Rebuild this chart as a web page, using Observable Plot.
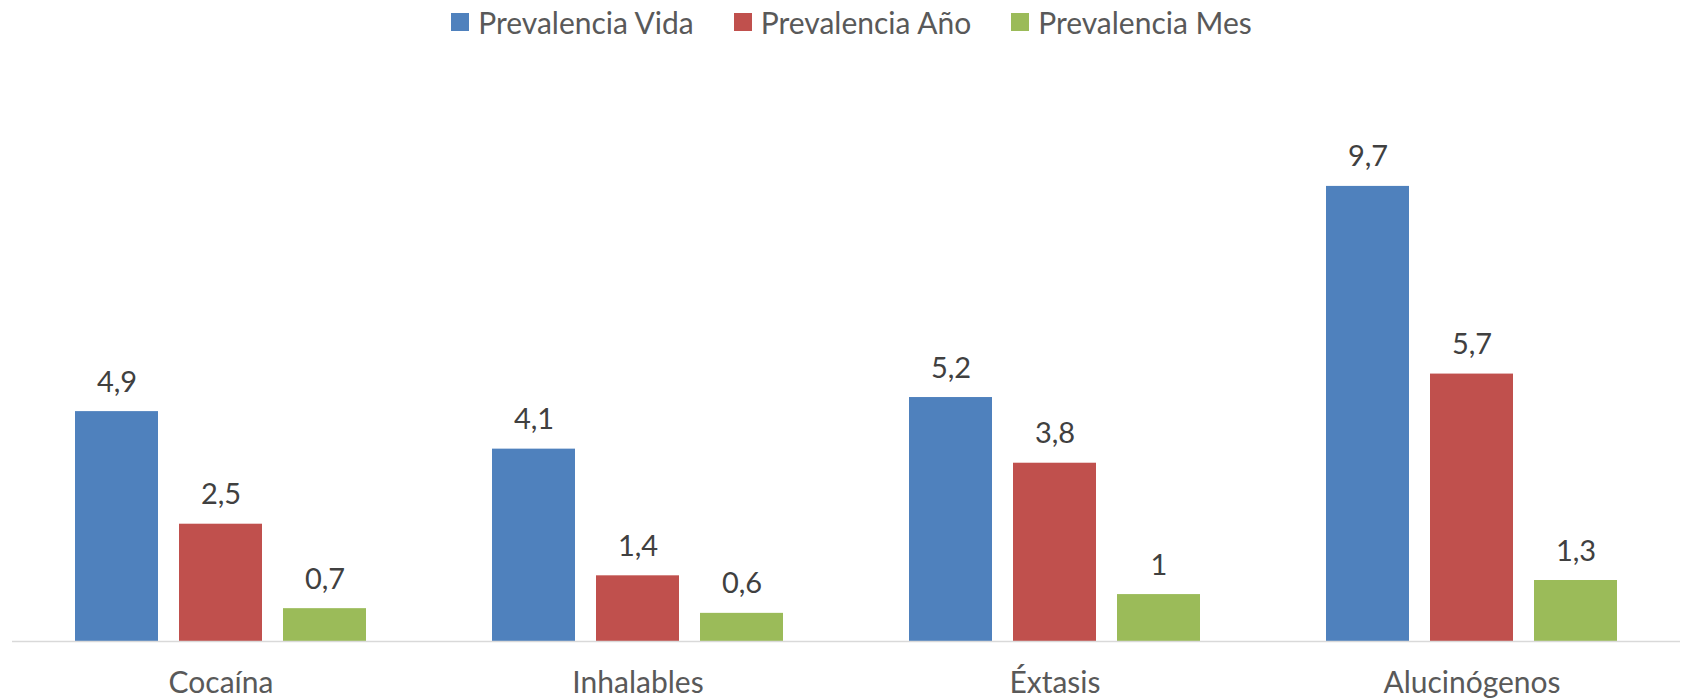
<!DOCTYPE html>
<html><head><meta charset="utf-8">
<script src="https://cdn.jsdelivr.net/npm/d3@7"></script>
<script src="https://cdn.jsdelivr.net/npm/@observablehq/plot@0.6"></script>
<style>
body{margin:0;background:#fff;font-family:Lato,sans-serif;}
#legend{height:44px;display:flex;justify-content:center;align-items:flex-start;padding-left:20px;box-sizing:border-box}
.item{display:flex;align-items:center;margin:4px 20px 0 20px;font-size:30px;color:#595959;line-height:36px}
.sw{width:18px;height:18px;margin-right:9px}
#chart svg{display:block}
</style></head><body>
<div id="legend"></div><div id="chart"></div>
<script>
const categories = ["Cocaína","Inhalables","Éxtasis","Alucinógenos"];
const series = ["Prevalencia Vida","Prevalencia Año","Prevalencia Mes"];
const vida = [4.9,4.1,5.2,9.7];
const anio = [2.5,1.4,3.8,5.7];
const mes = [0.7,0.6,1,1.3];
const colors = ["#4F81BD","#C0504D","#9BBB59"];
const values = [vida, anio, mes];
const data = categories.flatMap((c,i)=>series.map((s,j)=>({category:c, series:s, value: values[j][i]})));
const fmt = v => String(v).replace(".", ",");

const legend = document.getElementById("legend");
series.forEach((s,j)=>{
  const it = document.createElement("div"); it.className="item";
  const sw = document.createElement("span"); sw.className="sw"; sw.style.background=colors[j];
  const tx = document.createElement("span"); tx.textContent=s;
  it.appendChild(sw); it.appendChild(tx); legend.appendChild(it);
});

const plot = Plot.plot({
  width:1683, height:654,
  marginLeft:11, marginRight:3, marginTop:34, marginBottom:57,
  fx:{domain:categories, padding:0, label:null},
  x:{domain:series, paddingInner:0.2, paddingOuter:0.5965, axis:null},
  y:{domain:[0,12], axis:null},
  color:{domain:series, range:colors},
  style:{fontFamily:"Lato, sans-serif", background:"#fff"},
  marks:[
    Plot.barY(data,{fx:"category",x:"series",y:"value",fill:"series"}),
    Plot.ruleY([0],{stroke:"#d9d9d9",strokeWidth:1.5}),
    Plot.text(data,{fx:"category",x:"series",y:"value",text:d=>fmt(d.value),dy:-20,lineAnchor:"bottom",fontSize:29,fill:"#404040"}),
    Plot.axisFx({anchor:"bottom",tickSize:0,tickPadding:30,fontSize:30,color:"#595959",label:null})
  ]
});
document.getElementById("chart").appendChild(plot);
</script>
</body></html>
